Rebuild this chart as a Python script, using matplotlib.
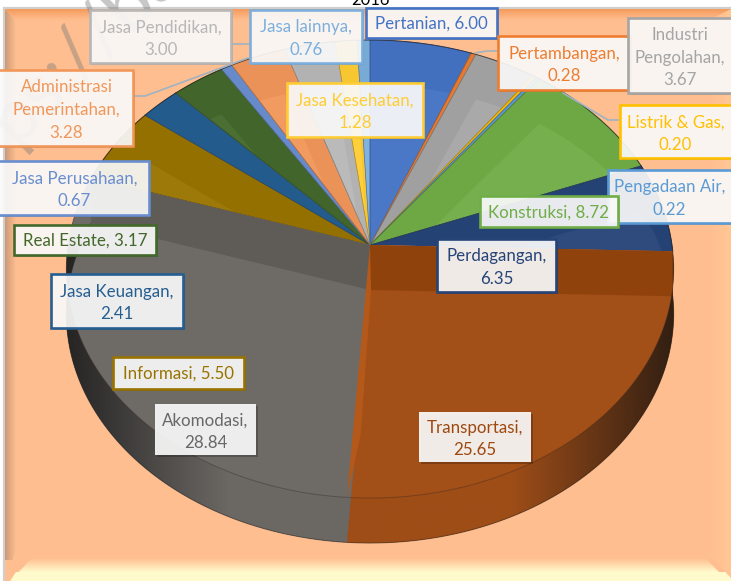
import numpy as np
import matplotlib
matplotlib.use("Agg")
import matplotlib.pyplot as plt
from matplotlib.patches import Polygon, Rectangle
from matplotlib.colors import to_rgb
import matplotlib.patheffects as pe

plt.rcParams['font.family'] = ['Lato', 'DejaVu Sans']

# data, clockwise from 12 o'clock
categories = ["Pertanian", "Pertambangan", "Industri\nPengolahan", "Listrik & Gas", "Pengadaan Air",
              "Konstruksi", "Perdagangan", "Transportasi", "Akomodasi", "Informasi", "Jasa Keuangan",
              "Real Estate", "Jasa Perusahaan", "Administrasi\nPemerintahan", "Jasa Pendidikan",
              "Jasa Kesehatan", "Jasa lainnya"]
values = [6.00, 0.28, 3.67, 0.20, 0.22, 8.72, 6.35, 25.65, 28.84, 5.50, 2.41, 3.17, 0.67, 3.28, 3.00, 1.28, 0.76]
title = "2016"

colors = ["#4472C4", "#ED7D31", "#A5A5A5", "#FFC000", "#5B9BD5", "#70AD47", "#264478", "#9E480E",
          "#686460", "#997300", "#255E91", "#43682B", "#698ED0", "#F1975A", "#B7B7B7", "#FFCD33", "#7CAFDD"]

# label boxes in pixels: x0, y0, x1, y1, and how the text breaks
boxes = [(366, 8, 497, 38, ", "), (498, 36, 630, 90, ",\n"), (628, 18, 740, 93, ",\n"), (620, 105, 740, 158, ",\n"),
         (608, 170, 740, 223, ",\n"), (480, 196, 618, 227, ", "), (437, 239, 556, 292, ",\n"), (419, 412, 531, 462, ",\n"),
         (155, 404, 256, 455, ",\n"), (113, 357, 244, 389, ", "), (51, 274, 183, 328, ",\n"), (14, 225, 156, 255, ", "),
         (-8, 161, 149, 215, ",\n"), (-8, 70, 133, 146, ",\n"), (90, 10, 231, 63, ",\n"), (287, 83, 423, 137, ",\n"),
         (250, 10, 362, 63, ",\n")]

leaders = [[(133, 96), (145, 96), (248, 58)], [(231, 44), (250, 44)],
           [(475, 53), (487, 51), (498, 51)], [(563, 93), (608, 120), (620, 120)]]

W, H = 731, 581
fig = plt.figure(figsize=(W / 100, H / 100), dpi=100, facecolor="white")
ax = fig.add_axes([0, 0, 1, 1])
ax.set_xlim(0, W)
ax.set_ylim(H, 0)
ax.autoscale(False)
ax.axis("off")

BG = "#FFBE8F"
CX, CY, A, B, K, DEPTH = 370, 245, 302, 226.5, 0.105, 45


def rim(pct, dy=0):
    # circle seen in perspective, so the centre is not the middle of the ellipse
    t = np.atleast_1d(pct) / 100 * 2 * np.pi
    u, v = np.sin(t), np.cos(t)
    return np.column_stack([CX + A * u / (1 + K * v), CY - B * v / (1 + K * v) + dy])


def wedge(p0, p1, dy=0):
    arc = rim(np.linspace(p0, p1, max(int((p1 - p0) * 4), 4)), dy)
    return np.vstack([[CX, CY + dy], arc])


def tint(c, f):
    c = np.array(to_rgb(c))
    if f >= 0:
        return tuple(c + (1 - c) * f)
    return tuple(c * (1 + f))


def grad(extent, c0, c1, horizontal=False, a0=1, a1=1, clip=None, z=1, n=64):
    # linear gradient, c0 at the left/top of extent
    s = np.linspace(0, 1, n)[:, None]
    rgba = (1 - s) * np.array([*to_rgb(c0), a0]) + s * np.array([*to_rgb(c1), a1])
    img = rgba[None, :, :] if horizontal else rgba[:, None, :]
    im = ax.imshow(img, extent=(extent[0], extent[1], extent[3], extent[2]), aspect="auto", zorder=z, interpolation="bilinear")
    if clip is not None:
        p = Polygon(clip, transform=ax.transData, fc="none", ec="none")
        ax.add_patch(p)
        im.set_clip_path(p)
    return im


# background panel with bevel
ax.add_patch(Rectangle((4, 8), W, H, fc=BG, ec="#CFCFCF", lw=1.6, zorder=0.5))
grad((5, 16, 10, 560), "#C99A78", BG, horizontal=True, clip=[(5, 9), (16, 20), (16, 550), (5, 581)], z=1)
grad((5, 731, 9, 20), "#F49A5C", BG, clip=[(5, 9), (731, 9), (720, 20), (16, 20)], z=1)
grad((10, 731, 558, 572), BG, "#FFFACB", clip=[(32, 558), (705, 558), (725, 578), (725, 581), (10, 581)], z=1)
ax.add_patch(Polygon([(10, 581), (731, 581), (731, 572), (16, 572)], fc="#FFFACB", ec="none", zorder=1))
grad((709, 731, 9, 581), BG, "#FFC795", horizontal=True, clip=[(709, 20), (731, 9), (731, 578), (709, 555)], z=1)

# watermark, sits under the labels
ax.text(16, 146, "ps://bandar", fontsize=54, color="#7A7A7A", alpha=0.42, rotation=45,
        rotation_mode="anchor", ha="left", va="baseline", zorder=1.5)

cum = np.concatenate([[0], np.cumsum(values)]) / np.sum(values) * 100
big = [7, 8]   # the two slices that show their walls at the front

for i in range(len(values)):
    if i in big:
        continue
    c = colors[i]
    top = wedge(cum[i], cum[i + 1])
    ax.add_patch(Polygon(top, fc=tint(c, -0.03), ec="none", zorder=2))
    clip = Polygon(top, transform=ax.transData, fc="none", ec="none")
    ax.add_patch(clip)
    fl = Polygon(wedge(cum[i], cum[i + 1], DEPTH), fc=tint(c, 0.04), ec="none", zorder=2.1)
    ax.add_patch(fl)
    fl.set_clip_path(clip)
    ax.plot(*top.T, color=tint(c, -0.35), lw=0.5, zorder=2.2)
    ax.plot(*top[1:].T, color="#222222", lw=0.7, alpha=0.6, zorder=2.2)

for i in big:
    c = colors[i]
    lt = tint(c, 0.04)
    ax.add_patch(Polygon(wedge(cum[i], cum[i + 1]), fc=lt, ec="none", zorder=3))
    ax.add_patch(Polygon(wedge(cum[i], cum[i + 1], DEPTH), fc=lt, ec="none", zorder=3))
    # outer wall between the two rims
    arc = np.linspace(cum[i], cum[i + 1], 120)
    ax.add_patch(Polygon(np.vstack([rim(arc), rim(arc, DEPTH)[::-1]]), fc=lt, ec="none", zorder=3))

# radial walls seen along the two outer cuts
for p, c in ((cum[7], colors[7]), (cum[9], colors[8])):
    a, b = rim(p)[0], rim(p, DEPTH)[0]
    wall = [(CX, CY), a, b, (CX, CY + DEPTH)]
    ax.add_patch(Polygon(wall, fc=tint(c, -0.09), ec="none", zorder=3.1))

# the cut between the two big slices, a narrow bright strip
p = cum[8]
end = rim(p)[0]
mid = np.array([CX, CY]) + 0.75 * (end - [CX, CY]) + [8, 0]
ax.add_patch(Polygon([(CX, CY), end, rim(p, DEPTH)[0], end, mid, (CX + 1, CY + DEPTH)],
                     fc="#B5591A", ec="none", zorder=3.1))

# shaded crescent of the front wall, darkest at the sides
arc = np.linspace(cum[7], cum[9], 240)
cres = np.vstack([rim(arc), rim(arc, DEPTH)[::-1]])
grad((62, 230, 240, 560), "#111111", "#111111", horizontal=True, a0=0.8, a1=0.03, clip=cres, z=3.2)
grad((230, 510, 240, 560), "#111111", "#111111", horizontal=True, a0=0.03, a1=0.03, clip=cres, z=3.2)
grad((510, 680, 240, 560), "#111111", "#111111", horizontal=True, a0=0.03, a1=0.8, clip=cres, z=3.2)
ax.plot(*rim(arc).T, color="#3A2A20", lw=0.7, alpha=0.4, zorder=3.3)
ax.plot(*rim(arc, DEPTH).T, color="#222222", lw=0.7, alpha=0.5, zorder=3.3)

for pts in leaders:
    ax.plot(*np.array(pts).T, color="#9FB2C2", lw=1.2, zorder=4)

# data labels
for name, v, c, (x0, y0, x1, y1, sep) in zip(categories, values, colors, boxes):
    edge = "#686868" if name == "Akomodasi" else c
    r = Rectangle((x0, y0), x1 - x0, y1 - y0, fc=(1, 1, 1, 0.9), ec=c if name not in ("Akomodasi", "Transportasi") else "none",
                  lw=1.9, zorder=5)
    r.set_path_effects([pe.SimplePatchShadow(offset=(1.5, -1.5), shadow_rgbFace="#000000", alpha=0.22), pe.Normal()])
    ax.add_patch(r)
    shift = 2 if sep == ",\n" else 1
    ax.text((max(x0, 0) + min(x1, W)) / 2, (y0 + y1) / 2 + shift, f"{name}{sep}{v:.2f}", color=edge, fontsize=12.2,
            ha="center", va="center", linespacing=1.5, zorder=6)

ax.text(370, 0, title, fontsize=12, color="black", ha="center", va="center", zorder=6)

fig.savefig("out.png", dpi=100, facecolor="white")
